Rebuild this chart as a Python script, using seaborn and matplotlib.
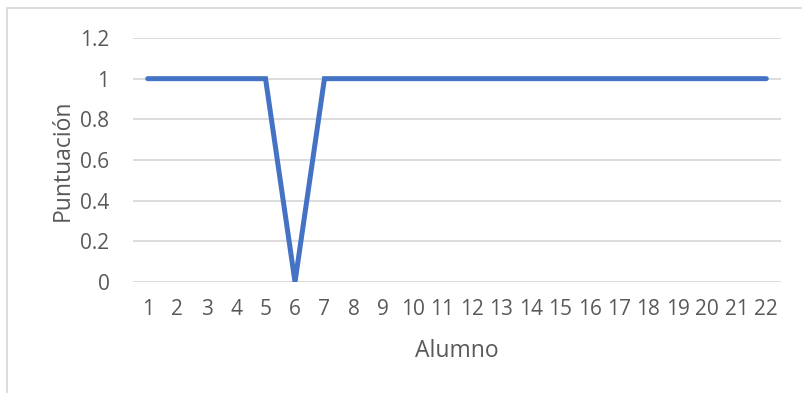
import matplotlib
matplotlib.use("Agg")
import matplotlib.pyplot as plt
import seaborn as sns
import pandas as pd
from matplotlib.patches import Rectangle

alumnos = list(range(1, 23))
puntuacion = [1, 1, 1, 1, 1, 0, 1, 1, 1, 1, 1, 1, 1, 1, 1, 1, 1, 1, 1, 1, 1, 1]
y_ticks = [0, 0.2, 0.4, 0.6, 0.8, 1, 1.2]
y_tick_labels = ["0", "0.2", "0.4", "0.6", "0.8", "1", "1.2"]

df = pd.DataFrame({"Alumno": alumnos, "Puntuación": puntuacion})

sns.set_theme(style="white")
plt.rcParams["font.family"] = ["Open Sans", "DejaVu Sans"]

text_color = "#595959"
grid_color = "#D9D9D9"

fig = plt.figure(figsize=(8.02, 3.93), dpi=100)
ax = fig.add_axes([133 / 802, 1 - 282 / 393, (781 - 133) / 802, (282 - 38) / 393])

sns.lineplot(data=df, x="Alumno", y="Puntuación", ax=ax, color="#4472C4",
             linewidth=3.6, solid_capstyle="round", solid_joinstyle="miter")

ax.set_xlim(0.5, 22.5)
ax.set_ylim(0, 1.2)
ax.set_xticks(alumnos)
ax.set_xticklabels([str(a) for a in alumnos])
ax.set_yticks(y_ticks)
ax.set_yticklabels(y_tick_labels)

ax.yaxis.grid(True, color=grid_color, linewidth=1.3)
ax.set_axisbelow(True)
for s in ax.spines.values():
    s.set_visible(False)

ax.tick_params(axis="both", length=0, labelsize=15, labelcolor=text_color)
ax.tick_params(axis="y", pad=17)
ax.tick_params(axis="x", pad=12)

ax.set_xlabel("Alumno", fontsize=16.5, color=text_color, labelpad=14)
ax.set_ylabel("Puntuación", fontsize=16.5, color=text_color, labelpad=4)

# chart area frame
fig.patches.append(Rectangle((7 / 802, -0.5), 1.2, 1.5 - 8 / 393,
                             transform=fig.transFigure, fill=False,
                             edgecolor=grid_color, linewidth=1.3))

fig.savefig("out.png", dpi=100)
